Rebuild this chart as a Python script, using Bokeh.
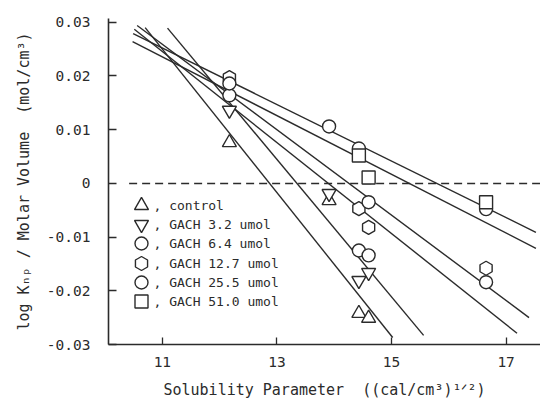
import math
from bokeh.plotting import figure
from bokeh.models import FixedTicker, Range1d
from bokeh.core.properties import value
from bokeh.embed import file_html
from bokeh.resources import INLINE

# ---------------- data ----------------
legend_labels = ["control", "GACH 3.2 umol", "GACH 6.4 umol",
                 "GACH 12.7 umol", "GACH 25.5 umol", "GACH 51.0 umol"]

control_x = [12.17, 13.91, 14.43, 14.60]
control_y = [0.0076, -0.0032, -0.0242, -0.0251]
g32_x = [12.17, 13.91, 14.43, 14.60]
g32_y = [0.0136, -0.0019, -0.0181, -0.0166]
g64_x = [12.17, 14.43, 14.60, 16.65]
g64_y = [0.0164, -0.0125, -0.0134, -0.0184]
g127_x = [12.17, 14.43, 14.60, 16.65]
g127_y = [0.0197, -0.0047, -0.0082, -0.0158]
g255_x = [12.17, 13.91, 14.43, 14.60, 16.65]
g255_y = [0.0186, 0.0106, 0.0065, -0.0035, -0.0048]
g510_x = [14.43, 14.60, 16.65]
g510_y = [0.0052, 0.0011, -0.0035]

# regression lines (end points)
control_fit_x = [10.70, 15.02]
control_fit_y = [0.0290, -0.0287]
g32_fit_x = [11.09, 15.56]
g32_fit_y = [0.0289, -0.0283]
g64_fit_x = [10.51, 17.19]
g64_fit_y = [0.0287, -0.0279]
g127_fit_x = [10.56, 17.40]
g127_fit_y = [0.0294, -0.0250]
g255_fit_x = [10.49, 17.52]
g255_fit_y = [0.0279, -0.0091]
g510_fit_x = [10.48, 17.52]
g510_fit_y = [0.0264, -0.0121]

zero_x = [10.42, 17.6]
zero_y = [0, 0]

x_ticks = [11, 13, 15, 17]
y_ticks = [0.03, 0.02, 0.01, 0, -0.01, -0.02, -0.03]
y_tick_labels = ["0.03", "0.02", "0.01", "0", "-0.01", "-0.02", "-0.03"]

x_title = "Solubility Parameter\u00a0\u00a0((cal/cm\u00b3)\u00b9\u141f\u00b2)"
y_title = "log K\u2099\u209a / Molar Volume\u00a0\u00a0(mol/cm\u00b3)"

# ---------------- layout helpers ----------------
X0, X1 = 10.06, 17.6
Y0, Y1 = -0.03, 0.0307
FL, FR, FT, FB = 108, 540, 18, 344
INK = "#2b2b2b"
FONT = "DejaVu Sans Mono"


def dx(px):
    return X0 + (px - FL) * (X1 - X0) / (FR - FL)


def dy(py):
    return Y0 + (FB - py) * (Y1 - Y0) / (FB - FT)


p = figure(width=540, height=404, x_range=Range1d(X0, X1), y_range=Range1d(Y0, Y1),
           output_backend="svg", toolbar_location=None,
           min_border_left=FL, min_border_right=540 - FR, min_border_top=FT,
           min_border_bottom=404 - FB)
p.outline_line_color = None
p.grid.visible = False
p.background_fill_color = "white"
p.border_fill_color = "white"

for ax in (p.xaxis, p.yaxis):
    ax.axis_line_color = INK
    ax.axis_line_width = 1.6
    ax.major_tick_line_color = INK
    ax.major_tick_line_width = 1.3
    ax.major_tick_out = 0
    ax.minor_tick_in = 0
    ax.minor_tick_out = 0
    ax.major_label_text_font = FONT
    ax.major_label_text_font_size = "14.5px"
    ax.major_label_text_color = INK
    ax.axis_label_text_font = FONT
    ax.axis_label_text_font_size = "15px"
    ax.axis_label_text_font_style = "normal"
    ax.axis_label_text_color = INK

p.xaxis.ticker = FixedTicker(ticks=x_ticks)
p.xaxis.major_tick_in = 7
p.xaxis.major_label_standoff = 12
p.xaxis.axis_label = x_title
p.xaxis.axis_label_standoff = 11
p.yaxis.ticker = FixedTicker(ticks=y_ticks)
p.yaxis.major_tick_in = 8
p.yaxis.major_label_standoff = 18
p.yaxis.major_label_overrides = {t: s for t, s in zip(y_ticks, y_tick_labels)}
p.yaxis.axis_label = y_title
p.yaxis.axis_label_standoff = 11

# zero reference line
p.line(zero_x, zero_y, line_color=INK, line_width=1.5, line_dash="8 5")

# fit lines
fits = [(control_fit_x, control_fit_y), (g32_fit_x, g32_fit_y), (g64_fit_x, g64_fit_y),
        (g127_fit_x, g127_fit_y), (g255_fit_x, g255_fit_y), (g510_fit_x, g510_fit_y)]
for fx, fy in fits:
    p.line(fx, fy, line_color=INK, line_width=1.4)

# points
markers = [("triangle", 0), ("inverted_triangle", 0), ("circle", 0),
           ("hex", math.pi / 6), ("circle", 0), ("square", 0)]
sizes = [14, 14, 13, 14, 13, 13]
series = [(control_x, control_y), (g32_x, g32_y), (g64_x, g64_y),
          (g127_x, g127_y), (g255_x, g255_y), (g510_x, g510_y)]
for (sx, sy), (m, a), s in zip(series, markers, sizes):
    p.scatter(sx, sy, marker=m, angle=a, size=s, fill_color="white",
              line_color=INK, line_width=1.4)

# legend (manual, inside the plot area)
leg_rows_px = [205, 224, 243, 263, 282, 301]
for (m, a), s, lab, ry in zip(markers, sizes, legend_labels, leg_rows_px):
    p.scatter([dx(141)], [dy(ry)], marker=m, angle=a, size=s, fill_color="white",
              line_color=INK, line_width=1.4)
    p.text([dx(153)], [dy(ry)], text=[", " + lab], text_font=value(FONT),
           text_font_size="13px", text_color=INK, text_baseline="middle",
           text_align="left")

open("out.html", "w").write(file_html(p, INLINE))
